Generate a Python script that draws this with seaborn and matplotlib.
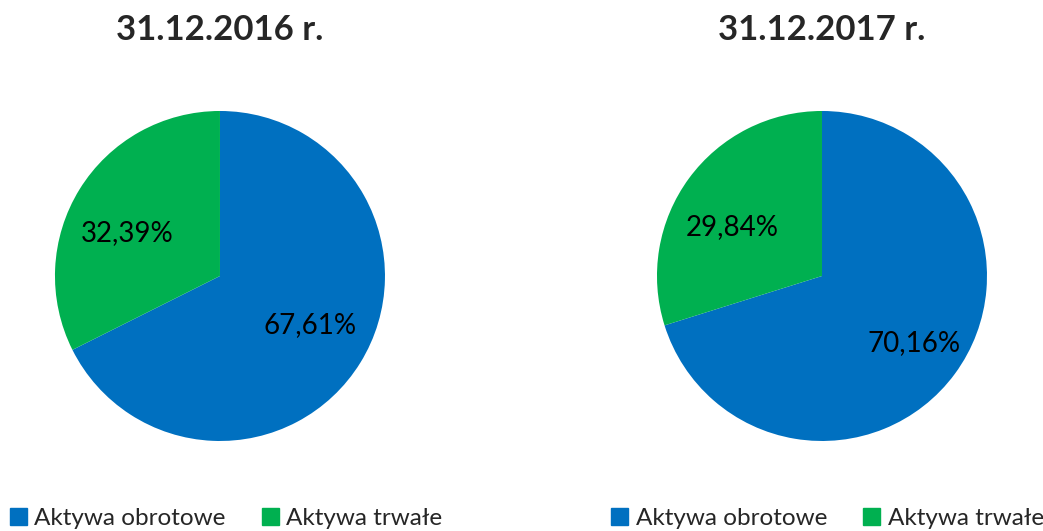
import matplotlib
matplotlib.use("Agg")
import numpy as np
import matplotlib.pyplot as plt
import seaborn as sns
from matplotlib.patches import Patch

# data
categories = ["Aktywa obrotowe", "Aktywa trwałe"]
titles = ["31.12.2016 r.", "31.12.2017 r."]
shares_2016 = [67.61, 32.39]
shares_2017 = [70.16, 29.84]
label_2016 = ["67,61%", "32,39%"]
label_2017 = ["70,16%", "29,84%"]

sns.set_theme(style="white")
plt.rcParams["font.family"] = ["Lato", "DejaVu Sans"]
colors = ["#0070C0", "#00B050"]

fig = plt.figure(figsize=(10.43, 5.31), dpi=100)

# (axes left, values, labels, title, legend centre x, label radius/angle nudges)
panels = [
    (0.0527, shares_2016, label_2016, titles[0], 0.2165, [(0.62, 3), (0.62, 7)]),
    (0.6299, shares_2017, label_2017, titles[1], 0.7935, [(0.69, 0), (0.62, 8)]),
]
for left, vals, labs, title, lx, pos in panels:
    ax = fig.add_axes([left, 0.1695, 0.3164, 0.6215])
    wedges, texts = ax.pie(vals, colors=colors, startangle=90, counterclock=False,
                           wedgeprops=dict(linewidth=0))
    for w, lab, (r, nudge) in zip(wedges, labs, pos):
        ang = np.deg2rad((w.theta1 + w.theta2) / 2 + nudge)
        ax.text(r * np.cos(ang), r * np.sin(ang), lab, ha="center", va="center",
                fontsize=20, color="black")
    ax.set_aspect("equal")
    ax.set_xlim(-1, 1)
    ax.set_ylim(-1, 1)
    fig.text(left + 0.1582, 0.943, title, ha="center", va="center",
             fontsize=25, fontweight="bold")
    handles = [Patch(color=c, label=l) for c, l in zip(colors, categories)]
    fig.legend(handles=handles, loc="center", bbox_to_anchor=(lx, 0.024), ncol=2,
               frameon=False, fontsize=17.5, handlelength=0.7, handleheight=0.7,
               handletextpad=0.3, columnspacing=1.5, borderaxespad=0)

fig.savefig("out.png", dpi=100)
